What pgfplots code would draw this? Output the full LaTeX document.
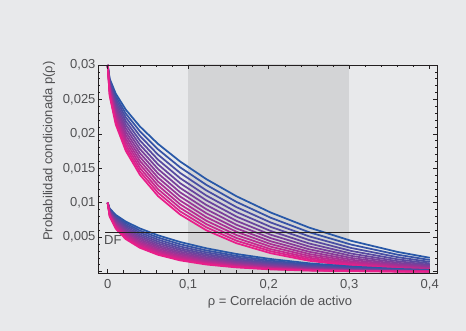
\documentclass[border=0pt]{standalone}
\usepackage{fontspec}
\setmainfont{Liberation Sans}
\usepackage{pgfplots}
\usepackage{pgfplotstable}
\pgfplotsset{compat=1.18}
\definecolor{bgc}{RGB}{232,233,235}
\definecolor{bandc}{RGB}{211,212,214}
\definecolor{txt}{RGB}{80,80,82}
\definecolor{axc}{RGB}{35,31,32}
\definecolor{bl}{RGB}{40,88,168}
\definecolor{pk}{RGB}{233,30,138}

\pgfplotstableread{
rho c0 c1 c2 c3 c4 c5 c6 c7 c8 c9 c10 c11 c12
0 0.03 0.03 0.03 0.03 0.03 0.03 0.03 0.03 0.03 0.03 0.03 0.03 0.03
0.0025 0.0280 0.0278 0.0276 0.0274 0.0272 0.0270 0.0268 0.0266 0.0264 0.0262 0.0260 0.0257 0.0255
0.01 0.02585 0.02544 0.02505 0.02465 0.02427 0.02388 0.02351 0.02314 0.02277 0.02242 0.02207 0.02172 0.02138
0.0225 0.02352 0.02295 0.02240 0.02186 0.02133 0.02082 0.02031 0.01982 0.01934 0.01888 0.01842 0.01798 0.01754
0.04 0.02108 0.02038 0.01971 0.01905 0.01842 0.01781 0.01722 0.01665 0.01610 0.01557 0.01505 0.01455 0.01407
0.0625 0.01855 0.01776 0.01699 0.01626 0.01557 0.01490 0.01426 0.01365 0.01307 0.01251 0.01197 0.01146 0.01097
0.09 0.01599 0.01514 0.01433 0.01357 0.01284 0.01216 0.01151 0.01090 0.01032 0.00977 0.00925 0.00875 0.00829
0.1225 0.01343 0.01260 0.01180 0.01105 0.01035 0.00968 0.00906 0.00847 0.00791 0.00739 0.00690 0.00644 0.00600
0.16 0.01094 0.01012 0.00936 0.00865 0.00799 0.00737 0.00680 0.00627 0.00578 0.00531 0.00488 0.00449 0.00412
0.2025 0.00858 0.00782 0.00713 0.00649 0.00590 0.00536 0.00486 0.00441 0.00400 0.00362 0.00326 0.00296 0.00267
0.25 0.00640 0.00573 0.00513 0.00459 0.00409 0.00365 0.00325 0.00289 0.00257 0.00228 0.00202 0.00179 0.00158
0.3025 0.00447 0.00392 0.00343 0.00300 0.00262 0.00229 0.00199 0.00173 0.00150 0.00130 0.00113 0.00098 0.00084
0.36 0.00286 0.00246 0.00210 0.00179 0.00152 0.00129 0.00109 0.00093 0.00078 0.00066 0.00055 0.00046 0.00039
0.4 0.00201 0.00169 0.00141 0.00118 0.00098 0.00082 0.00068 0.00056 0.00046 0.00038 0.00031 0.00025 0.00021
}\uptab

\pgfplotstableread{
rho c0 c1 c2 c3 c4 c5 c6 c7 c8 c9 c10 c11 c12
0 0.01 0.01 0.01 0.01 0.01 0.01 0.01 0.01 0.01 0.01 0.01 0.01 0.01
0.0025 0.00916 0.00906 0.00895 0.00885 0.00875 0.00865 0.00856 0.00846 0.00836 0.00827 0.00818 0.00808 0.00799
0.01 0.00824 0.00805 0.00786 0.00768 0.00751 0.00733 0.00717 0.00700 0.00684 0.00668 0.00653 0.00638 0.00623
0.0225 0.00726 0.00701 0.00676 0.00652 0.00629 0.00607 0.00585 0.00565 0.00545 0.00526 0.00507 0.00489 0.00472
0.04 0.00627 0.00596 0.00568 0.00540 0.00514 0.00490 0.00466 0.00443 0.00422 0.00402 0.00382 0.00364 0.00346
0.0625 0.00527 0.00495 0.00464 0.00435 0.00408 0.00382 0.00359 0.00336 0.00315 0.00296 0.00277 0.00260 0.00244
0.09 0.00430 0.00397 0.00366 0.00338 0.00314 0.00290 0.00268 0.00247 0.00227 0.00209 0.00192 0.00177 0.00163
0.1225 0.00339 0.00308 0.00280 0.00254 0.00231 0.00209 0.00189 0.00171 0.00155 0.00140 0.00126 0.00114 0.00103
0.16 0.00256 0.00228 0.00204 0.00181 0.00161 0.00143 0.00127 0.00112 0.00099 0.00088 0.00078 0.00069 0.00061
0.2025 0.00183 0.00159 0.00139 0.00121 0.00105 0.00091 0.00079 0.00068 0.00059 0.00051 0.00044 0.00038 0.00032
0.25 0.00121 0.00103 0.00087 0.00074 0.00062 0.00053 0.00044 0.00037 0.00031 0.00026 0.00022 0.00018 0.00015
0.3025 0.00073 0.00060 0.00049 0.00041 0.00033 0.00027 0.00022 0.00018 0.00015 0.00012 0.00010 0.00008 0.00006
0.36 0.00039 0.00031 0.00025 0.00020 0.00015 0.00012 0.00009 0.00007 0.00006 0.00004 0.00003 0.00003 0.00002
0.4 0.00024 0.00019 0.00014 0.00011 0.00008 0.00006 0.00005 0.00004 0.00003 0.00002 0.00002 0.00001 0.00001
}\lowtab

\begin{document}
\begin{tikzpicture}
\fill[bgc] (0,0) rectangle (466pt,331pt);
\begin{axis}[
  at={(98pt,58pt)}, anchor=south west,
  scale only axis, width=339pt, height=208pt,
  xmin=-0.012, xmax=0.409, ymin=-0.0002, ymax=0.03,
  axis on top,
  axis line style={axc, line width=0.9pt},
  every tick/.style={axc, line width=0.6pt},
  major tick length=4pt, minor tick length=2.5pt,
  xtick={0,0.1,0.2,0.3,0.4},
  xticklabels={0,{0,1},{0,2},{0,3},{0,4}},
  ytick={0,0.005,0.01,0.015,0.02,0.025,0.03},
  yticklabels={{},{0,005},{0,01},{0,015},{0,02},{0,025},{0,03}},
  minor x tick num=4, minor y tick num=4,
  tick label style={font=\fontsize{13}{15}\selectfont, text=txt},
  xticklabel style={yshift=-3pt},
  yticklabel style={xshift=1pt},
  scaled y ticks=false, scaled x ticks=false,
  clip=true,
  every axis plot/.append style={line width=1.75pt},
]
\addplot[fill=bandc, draw=none] coordinates {(0.1,-0.001) (0.1,0.031) (0.3,0.031) (0.3,-0.001)} -- cycle;
\addplot[color=pk!0!bl] table[x=rho,y=c0]{\uptab};
\addplot[color=pk!8!bl] table[x=rho,y=c1]{\uptab};
\addplot[color=pk!17!bl] table[x=rho,y=c2]{\uptab};
\addplot[color=pk!25!bl] table[x=rho,y=c3]{\uptab};
\addplot[color=pk!33!bl] table[x=rho,y=c4]{\uptab};
\addplot[color=pk!42!bl] table[x=rho,y=c5]{\uptab};
\addplot[color=pk!50!bl] table[x=rho,y=c6]{\uptab};
\addplot[color=pk!58!bl] table[x=rho,y=c7]{\uptab};
\addplot[color=pk!67!bl] table[x=rho,y=c8]{\uptab};
\addplot[color=pk!75!bl] table[x=rho,y=c9]{\uptab};
\addplot[color=pk!83!bl] table[x=rho,y=c10]{\uptab};
\addplot[color=pk!92!bl] table[x=rho,y=c11]{\uptab};
\addplot[color=pk!100!bl] table[x=rho,y=c12]{\uptab};
\addplot[color=pk!0!bl] table[x=rho,y=c0]{\lowtab};
\addplot[color=pk!8!bl] table[x=rho,y=c1]{\lowtab};
\addplot[color=pk!17!bl] table[x=rho,y=c2]{\lowtab};
\addplot[color=pk!25!bl] table[x=rho,y=c3]{\lowtab};
\addplot[color=pk!33!bl] table[x=rho,y=c4]{\lowtab};
\addplot[color=pk!42!bl] table[x=rho,y=c5]{\lowtab};
\addplot[color=pk!50!bl] table[x=rho,y=c6]{\lowtab};
\addplot[color=pk!58!bl] table[x=rho,y=c7]{\lowtab};
\addplot[color=pk!67!bl] table[x=rho,y=c8]{\lowtab};
\addplot[color=pk!75!bl] table[x=rho,y=c9]{\lowtab};
\addplot[color=pk!83!bl] table[x=rho,y=c10]{\lowtab};
\addplot[color=pk!92!bl] table[x=rho,y=c11]{\lowtab};
\addplot[color=pk!100!bl] table[x=rho,y=c12]{\lowtab};
\addplot[axc, line width=1.1pt] coordinates {(-0.003,0.0057) (0.4,0.0057)};
\end{axis}
\node[rotate=90, font=\fontsize{13}{15}\selectfont, text=txt] at (49pt,180pt) {Probabilidad condicionada p(ρ)};
\node[font=\fontsize{13}{15}\selectfont, text=txt] at (280pt,29pt) {ρ = Correlación de activo};
\node[anchor=north west, inner sep=0pt, font=\fontsize{13}{15}\selectfont, text=txt] at (104pt,96pt) {DF};
\end{tikzpicture}
\end{document}
